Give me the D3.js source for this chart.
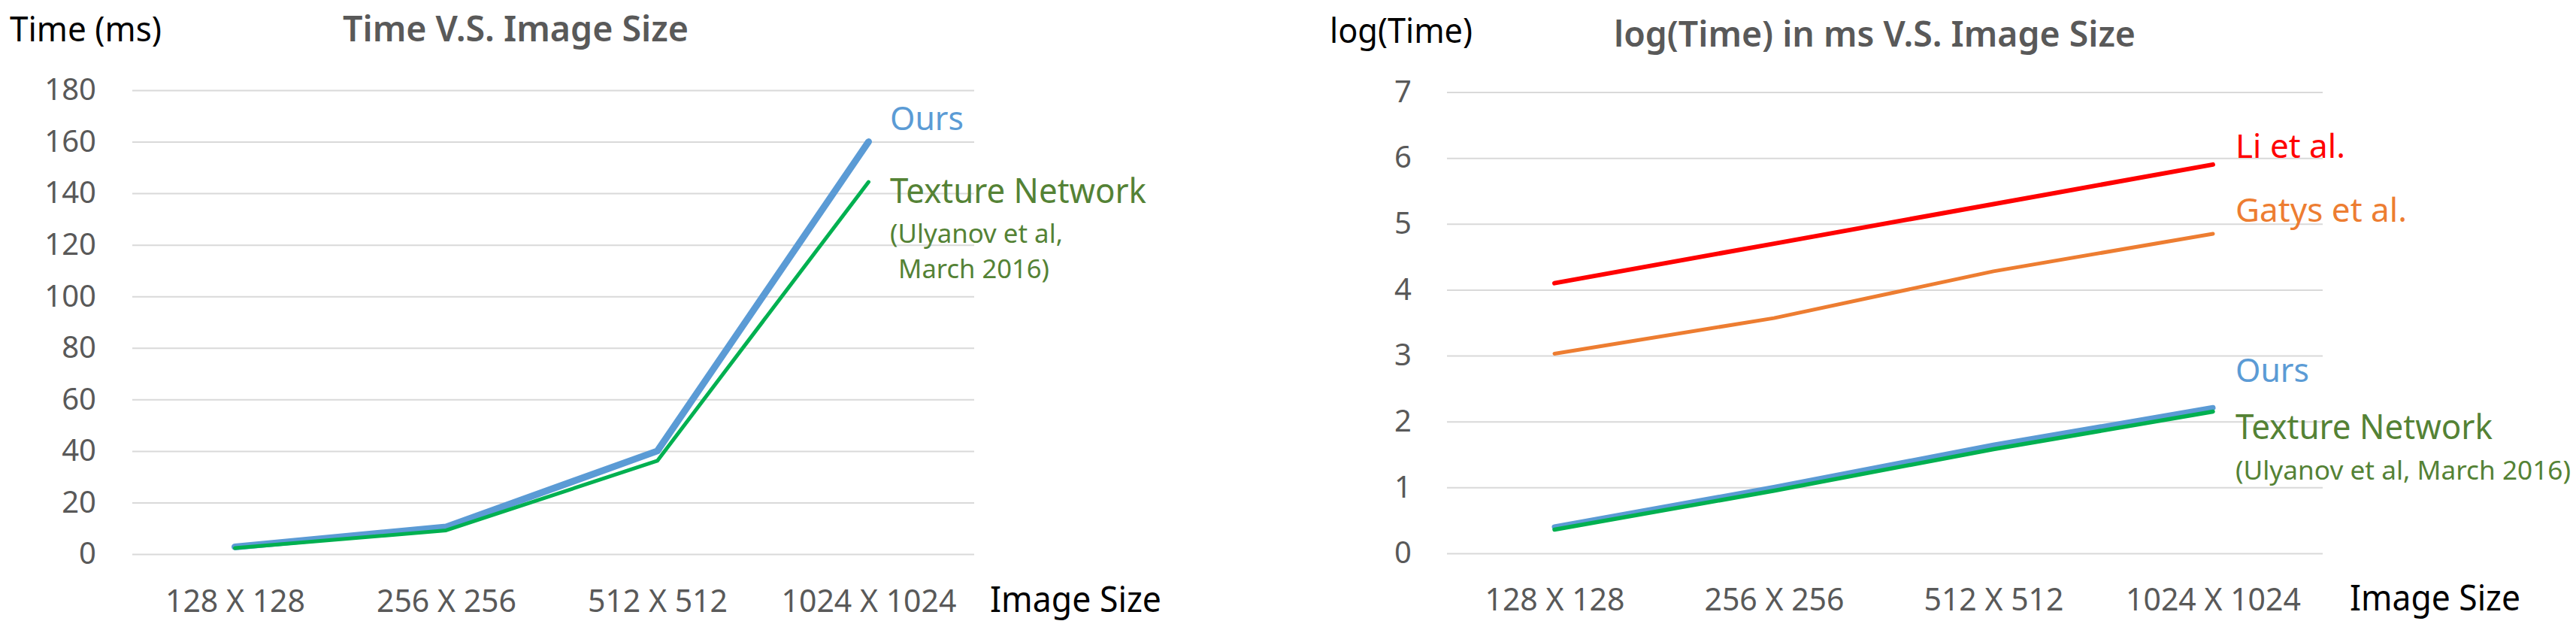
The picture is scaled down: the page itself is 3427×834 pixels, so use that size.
<!DOCTYPE html>
<html>
<head>
<meta charset="utf-8">
<script src="https://cdn.jsdelivr.net/npm/d3@7"></script>
<style>
  html, body { margin: 0; padding: 0; background: #ffffff; }
  svg { display: block; }
  text { font-family: "Noto Sans", "Open Sans", "DejaVu Sans", sans-serif; }
</style>
</head>
<body>
<svg id="chart" width="3427" height="834"></svg>
<script>
// ---------- data ----------
const categories = ["128 X 128", "256 X 256", "512 X 512", "1024 X 1024"];

// left chart: Time (ms)
const timeTicks = [0, 20, 40, 60, 80, 100, 120, 140, 160, 180];
const oursTime = [2.8, 10.5, 40, 160];
const textureTime = [2.3, 9.2, 36.2, 144.4];

// right chart: log(Time)
const logTicks = [0, 1, 2, 3, 4, 5, 6, 7];
const liLog = [4.10, 4.70, 5.30, 5.90];
const gatysLog = [3.03, 3.57, 4.28, 4.85];
const oursLog = [0.40, 1.00, 1.64, 2.21];
const textureLog = [0.36, 0.95, 1.58, 2.15];

// ---------- drawing ----------
const svg = d3.select("#chart");
const gridColor = "#d9d9d9";
const tickColor = "#595959";

function drawChart(cfg) {
  const g = svg.append("g");
  const x = d3.scalePoint().domain(categories).range(cfg.xRange).padding(0.5);
  const y = d3.scaleLinear().domain(cfg.yDomain).range(cfg.yRange);

  // y axis with gridlines
  const yAxis = d3.axisLeft(y)
    .tickValues(cfg.ticks)
    .tickSizeInner(-(cfg.gridEnd - cfg.gridStart))
    .tickSizeOuter(0)
    .tickPadding(cfg.tickPad)
    .tickFormat(d3.format("d"));
  const ya = g.append("g").attr("transform", `translate(${cfg.gridStart},0)`).call(yAxis);
  ya.select(".domain").remove();
  ya.selectAll(".tick line").attr("stroke", gridColor).attr("stroke-width", 2);
  ya.selectAll(".tick text")
    .attr("fill", tickColor)
    .style("font-size", "40px")
    .style("font-family", "'Noto Sans', 'Open Sans', sans-serif");

  // x axis labels
  const xAxis = d3.axisBottom(x).tickSize(0).tickPadding(0);
  const xa = g.append("g").attr("transform", `translate(0,${cfg.yRange[0]})`).call(xAxis);
  xa.select(".domain").remove();
  xa.selectAll(".tick text")
    .attr("fill", tickColor)
    .attr("y", cfg.xLabelBaseline - cfg.yRange[0])
    .attr("dy", 0)
    .style("font-size", "41px")
    .style("font-family", "'Noto Sans', 'Open Sans', sans-serif");

  // series lines
  const line = d3.line().x((d, i) => x(categories[i])).y(d => y(d));
  cfg.series.forEach(s => {
    g.append("path")
      .datum(s.values)
      .attr("d", line)
      .attr("fill", "none")
      .attr("stroke", s.color)
      .attr("stroke-width", s.width)
      .attr("stroke-linecap", "round")
      .attr("stroke-linejoin", "round");
  });

  // texts
  cfg.texts.forEach(t => {
    const el = g.append("text")
      .attr("x", t.x).attr("y", t.y)
      .attr("fill", t.color)
      .style("font-size", t.size + "px")
      .style("font-weight", t.weight || 400)
      .text(t.text);
    if (t.len) el.attr("textLength", t.len).attr("lengthAdjust", "spacingAndGlyphs");
  });
}

// Left chart
drawChart({
  xRange: [172, 1296],
  yDomain: [0, 180],
  yRange: [737, 120],
  ticks: timeTicks,
  gridStart: 176,
  gridEnd: 1296,
  tickPad: 48,
  xLabelBaseline: 814,
  series: [
    { values: oursTime, color: "#5B9BD5", width: 9 },
    { values: textureTime, color: "#00B050", width: 5 }
  ],
  texts: [
    { text: "Time (ms)", x: 13, y: 55, size: 46, color: "#000000", len: 202 },
    { text: "Time V.S. Image Size", x: 456, y: 55, size: 46, color: "#595959", weight: 600, len: 460 },
    { text: "Ours", x: 1184, y: 173, size: 44, color: "#5B9BD5", len: 98 },
    { text: "Texture Network", x: 1184, y: 270, size: 46, color: "#548235", len: 341 },
    { text: "(Ulyanov et al,", x: 1184, y: 323, size: 34, color: "#548235", len: 230 },
    { text: "March 2016)", x: 1195, y: 370, size: 34, color: "#548235", len: 201 },
    { text: "Image Size", x: 1317, y: 814, size: 47, color: "#000000", len: 228 }
  ]
});

// Right chart
drawChart({
  xRange: [1922, 3090],
  yDomain: [0, 7],
  yRange: [736, 122.5],
  ticks: logTicks,
  gridStart: 1925,
  gridEnd: 3090,
  tickPad: 47,
  xLabelBaseline: 812,
  series: [
    { values: liLog, color: "#FF0000", width: 6 },
    { values: gatysLog, color: "#ED7D31", width: 5 },
    { values: oursLog, color: "#5B9BD5", width: 7 },
    { values: textureLog, color: "#00B050", width: 5.5 }
  ],
  texts: [
    { text: "log(Time)", x: 1769, y: 57, size: 46, color: "#000000", len: 190 },
    { text: "log(Time) in ms V.S. Image Size", x: 2147, y: 62, size: 46, color: "#595959", weight: 600, len: 694 },
    { text: "Li et al.", x: 2974, y: 210, size: 44, color: "#FF0000", len: 146 },
    { text: "Gatys et al.", x: 2974, y: 295, size: 44, color: "#ED7D31", len: 228 },
    { text: "Ours", x: 2974, y: 508, size: 44, color: "#5B9BD5", len: 98 },
    { text: "Texture Network", x: 2974, y: 584, size: 46, color: "#548235", len: 342 },
    { text: "(Ulyanov et al, March 2016)", x: 2974, y: 638, size: 35, color: "#548235", len: 446 },
    { text: "Image Size", x: 3126, y: 812, size: 47, color: "#000000", len: 227 }
  ]
});
</script>
</body>
</html>
